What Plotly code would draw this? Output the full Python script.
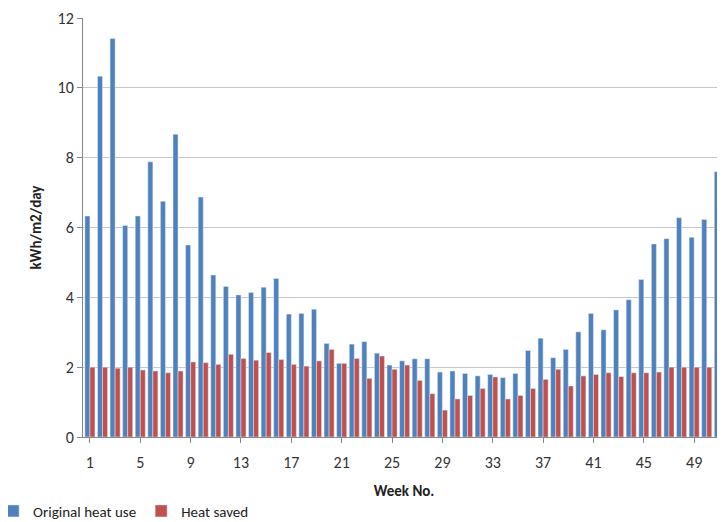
import plotly.graph_objects as go

weeks = list(range(1, 52))
original = [6.33, 10.33, 11.41, 6.06, 6.33, 7.88, 6.75, 8.67, 5.50, 6.87,
            4.64, 4.31, 4.07, 4.14, 4.29, 4.54, 3.52, 3.54, 3.66, 2.68,
            2.11, 2.66, 2.73, 2.40, 2.06, 2.18, 2.24, 2.24, 1.86, 1.89,
            1.82, 1.75, 1.79, 1.70, 1.82, 2.48, 2.83, 2.27, 2.51, 3.01,
            3.54, 3.07, 3.64, 3.93, 4.51, 5.53, 5.68, 6.28, 5.72, 6.23, 7.6]
saved = [2.0, 2.0, 1.97, 2.0, 1.92, 1.89, 1.84, 1.89, 2.15, 2.13,
         2.08, 2.37, 2.25, 2.2, 2.42, 2.22, 2.08, 2.03, 2.18, 2.51,
         2.11, 2.25, 1.68, 2.32, 1.94, 2.06, 1.62, 1.24, 0.77, 1.09,
         1.19, 1.39, 1.72, 1.09, 1.19, 1.39, 1.65, 1.94, 1.46, 1.75,
         1.79, 1.84, 1.73, 1.84, 1.84, 1.86, 2.0, 2.0, 2.0, 2.0, 2.0]
tick_weeks = list(range(1, 52, 4))

fig = go.Figure()
fig.add_trace(go.Bar(x=weeks, y=original, name='Original heat use',
                     marker_color='#4F81BD'))
fig.add_trace(go.Bar(x=weeks, y=saved, name='Heat saved',
                     marker_color='#C0504D'))

fig.update_layout(
    width=717, height=514,
    margin=dict(l=75, r=0, t=10, b=85, autoexpand=False),
    plot_bgcolor='white', paper_bgcolor='white',
    font=dict(family='Carlito, Calibri, Liberation Sans, sans-serif', size=16, color='#333'),
    barmode='group', bargap=0.2, bargroupgap=0,
    legend=dict(orientation='h', xref='paper', x=-0.14, xanchor='left',
                y=-0.177, yanchor='middle', itemwidth=30, tracegroupgap=0,
                font=dict(size=15, color='#222')),
)
fig.update_xaxes(range=[0.45, 51.45], tickvals=tick_weeks, ticks='outside',
                 ticklen=5, tickcolor='#888', showline=True, linecolor='#888',
                 ticklabelstandoff=6,
                 title=dict(text='<b>Week No.</b>', standoff=14,
                            font=dict(size=15, color='#222')))
fig.update_yaxes(range=[0, 12], dtick=2, showgrid=True, gridcolor='#c8c8c8',
                 showline=True, linecolor='#888', ticks='outside', ticklen=5,
                 tickcolor='#888',
                 title=dict(text='<b>kWh/m2/day</b>', standoff=12,
                            font=dict(size=15, color='#222')))

fig.write_html("out.html")
